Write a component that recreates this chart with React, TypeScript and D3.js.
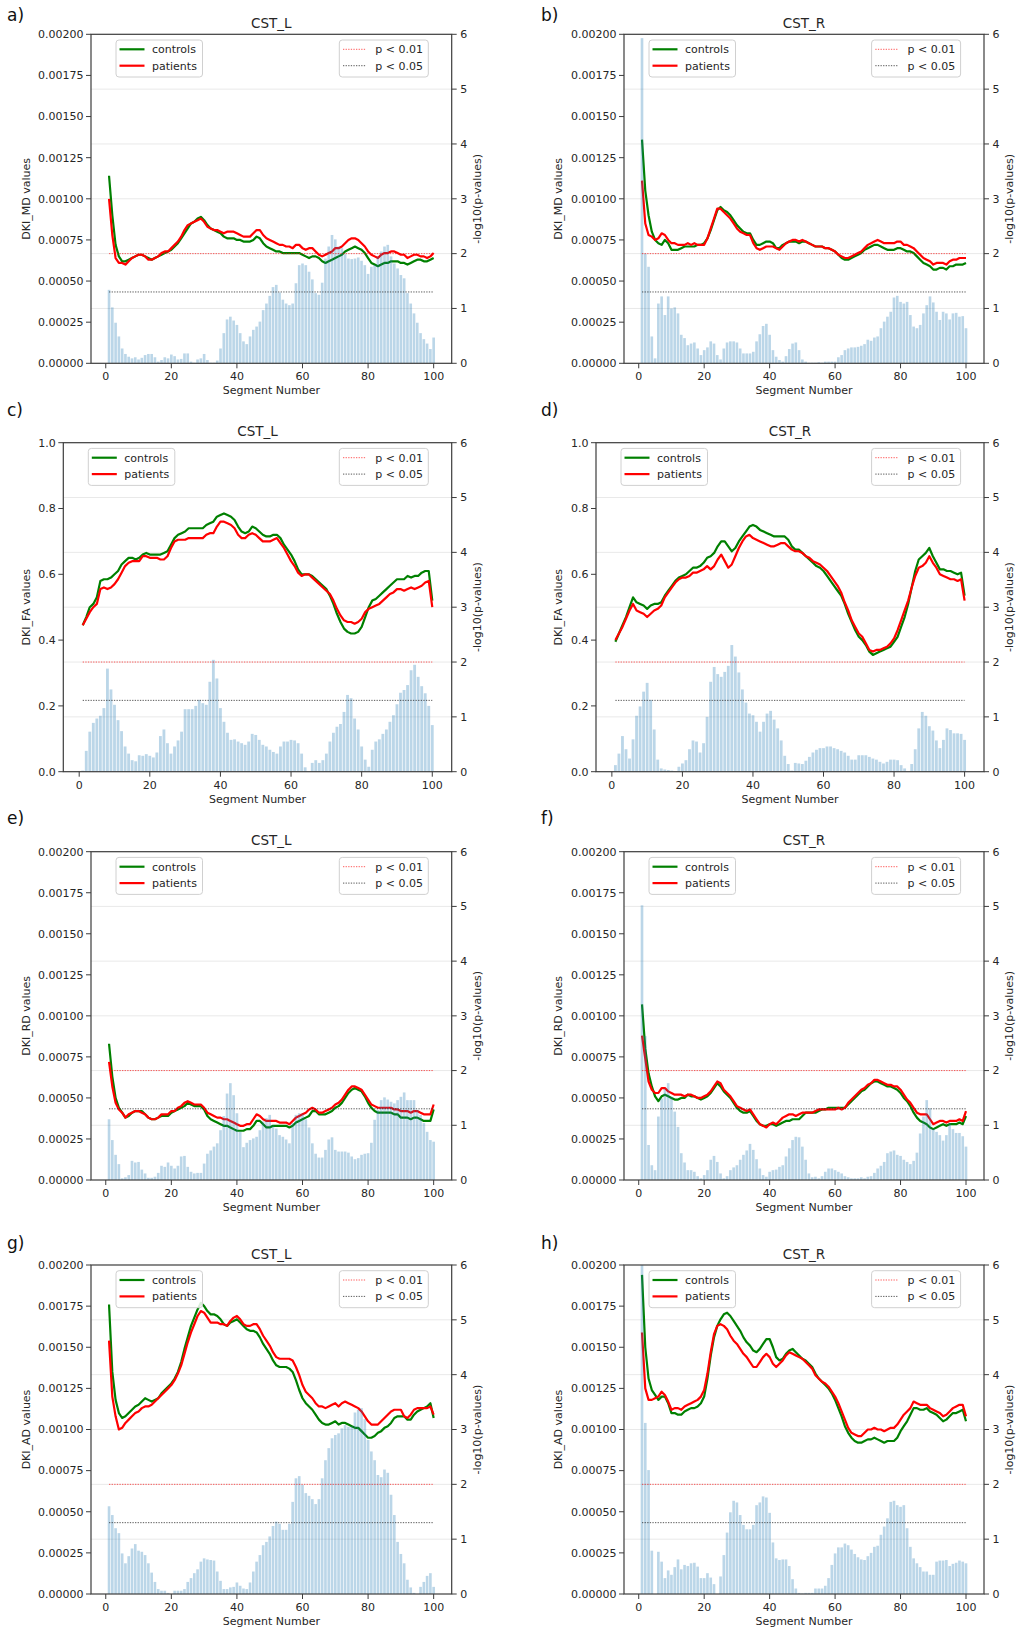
import * as d3 from "d3";

// segment index along the tract
const segments = d3.range(1, 101);
const xTicks = [0, 20, 40, 60, 80, 100];
const pTicks = [0, 1, 2, 3, 4, 5, 6];
const diffTicks = [0, 0.00025, 0.0005, 0.00075, 0.001, 0.00125, 0.0015, 0.00175, 0.002];
const faTicks = [0, 0.2, 0.4, 0.6, 0.8, 1.0];
const groupLabels = ["controls", "patients"];
const pLabels = ["p < 0.01", "p < 0.05"];
const pLevels = [2, -Math.log10(0.05)];

// diffusivities below are in units of 1e-5 (mm^2/s)
const mdLControls = [
  114, 90, 72, 65, 62, 62, 63, 64, 65, 66, 66, 65, 64, 63, 64, 65, 66, 67, 68, 69,
  71, 73, 76, 79, 82, 85, 86, 88, 89, 87, 84, 82, 81, 80, 79, 77, 76, 76, 76, 75,
  75, 74, 74, 74, 75, 77, 76, 73, 71, 70, 69, 68, 68, 67, 67, 67, 67, 67, 67, 66,
  65, 64, 65, 65, 64, 62, 61, 62, 63, 64, 65, 66, 68, 69, 70, 71, 70, 69, 67, 64,
  61, 60, 59, 60, 61, 61, 62, 62, 62, 61, 61, 60, 61, 62, 63, 63, 62, 62, 63, 64,
];
const mdLPatients = [
  100, 78, 64, 61, 61, 60, 62, 64, 65, 66, 66, 65, 63, 63, 64, 65, 67, 68, 68, 70,
  72, 74, 77, 81, 84, 85, 86, 87, 88, 86, 83, 82, 81, 81, 80, 79, 80, 80, 80, 79,
  78, 77, 77, 77, 79, 81, 81, 78, 76, 75, 74, 73, 72, 72, 71, 71, 70, 72, 72, 70,
  69, 70, 70, 68, 66, 65, 66, 67, 68, 70, 70, 71, 73, 75, 76, 76, 75, 73, 71, 68,
  66, 65, 64, 66, 67, 67, 68, 68, 67, 66, 66, 64, 65, 66, 66, 65, 65, 64, 65, 67,
];
const mdLLogP = [
  1.34, 1.02, 0.74, 0.49, 0.27, 0.17, 0.12, 0.09, 0.11, 0.07, 0.1, 0.15, 0.17, 0.17, 0.11, 0.03, 0.06, 0.11, 0.09, 0.16,
  0.13, 0.07, 0.08, 0.18, 0.18, 0.03, 0.01, 0.07, 0.09, 0.17, 0.06, 0.01, 0.01, 0.05, 0.27, 0.55, 0.8, 0.85, 0.78, 0.7,
  0.55, 0.4, 0.35, 0.49, 0.61, 0.67, 0.76, 0.97, 1.09, 1.23, 1.39, 1.43, 1.29, 1.16, 1.09, 1.06, 1.09, 1.46, 1.79, 1.82,
  1.79, 1.67, 1.53, 1.28, 1.25, 1.47, 1.91, 2.13, 2.34, 2.26, 2.13, 2.1, 1.99, 1.91, 1.9, 1.91, 1.93, 1.87, 1.79, 1.63,
  1.76, 1.79, 1.95, 2.04, 2.13, 2.16, 1.95, 1.82, 1.73, 1.61, 1.55, 1.28, 1.09, 0.91, 0.74, 0.55, 0.44, 0.36, 0.26, 0.47,
];

const mdRControls = [
  136, 105, 90, 80, 75, 73, 72, 75, 73, 69, 69, 69, 70, 71, 71, 71, 71, 72, 72, 73,
  76, 81, 87, 93, 95, 93, 92, 90, 87, 84, 82, 80, 79, 79, 75, 72, 72, 73, 74, 74,
  73, 70, 70, 72, 73, 74, 74, 74, 73, 74, 74, 73, 72, 71, 71, 71, 70, 70, 69, 68,
  66, 64, 63, 63, 64, 65, 66, 67, 69, 70, 71, 72, 72, 71, 70, 69, 69, 69, 70, 70,
  69, 68, 68, 67, 65, 63, 61, 60, 59, 57, 57, 58, 58, 57, 59, 59, 60, 60, 60, 61,
];
const mdRPatients = [
  111, 85, 78, 77, 75, 76, 79, 78, 75, 73, 73, 72, 72, 72, 73, 72, 73, 72, 72, 72,
  76, 82, 88, 94, 94, 92, 90, 88, 85, 82, 80, 79, 78, 78, 73, 70, 69, 70, 71, 71,
  71, 70, 69, 71, 73, 74, 75, 75, 74, 75, 74, 73, 72, 71, 71, 71, 70, 70, 69, 68,
  66, 65, 64, 64, 65, 66, 67, 68, 70, 72, 73, 74, 75, 74, 73, 73, 73, 73, 74, 74,
  72, 72, 71, 70, 68, 66, 64, 63, 62, 60, 61, 61, 61, 60, 62, 63, 63, 64, 64, 64,
];
const mdRLogP = [
  5.93, 2.0, 1.76, 0.49, 0.09, 1.09, 1.22, 0.88, 1.22, 1.0, 1.02, 0.91, 0.52, 0.46, 0.33, 0.36, 0.38, 0.27, 0.15, 0.24,
  0.29, 0.4, 0.36, 0.15, 0.07, 0.27, 0.38, 0.4, 0.4, 0.38, 0.27, 0.18, 0.18, 0.18, 0.21, 0.4, 0.53, 0.68, 0.72, 0.52,
  0.24, 0.12, 0.06, 0.03, 0.13, 0.26, 0.36, 0.38, 0.24, 0.07, 0.03, 0.01, 0.01, 0.01, 0.02, 0.01, 0.03, 0.03, 0.03, 0.03,
  0.11, 0.15, 0.24, 0.27, 0.29, 0.29, 0.3, 0.32, 0.35, 0.43, 0.41, 0.47, 0.49, 0.64, 0.76, 0.85, 0.94, 1.2, 1.23, 1.12,
  1.09, 1.12, 0.88, 0.67, 0.64, 0.7, 0.91, 1.06, 1.22, 1.11, 0.94, 0.79, 0.94, 0.91, 0.8, 0.91, 0.92, 0.85, 0.86, 0.64,
];

const faLControls = [
  0.445, 0.47, 0.5, 0.51, 0.53, 0.58, 0.585, 0.585, 0.59, 0.6, 0.61, 0.63, 0.64, 0.65, 0.65, 0.645, 0.65, 0.66, 0.665, 0.66,
  0.66, 0.66, 0.66, 0.665, 0.67, 0.69, 0.71, 0.72, 0.725, 0.73, 0.74, 0.74, 0.74, 0.74, 0.74, 0.75, 0.755, 0.76, 0.775, 0.78,
  0.785, 0.78, 0.775, 0.765, 0.745, 0.73, 0.725, 0.73, 0.745, 0.74, 0.73, 0.72, 0.715, 0.715, 0.72, 0.72, 0.71, 0.69, 0.675, 0.66,
  0.64, 0.615, 0.6, 0.6, 0.6, 0.595, 0.585, 0.575, 0.565, 0.555, 0.535, 0.51, 0.48, 0.455, 0.435, 0.425, 0.42, 0.42, 0.425, 0.44,
  0.47, 0.5, 0.52, 0.525, 0.535, 0.545, 0.555, 0.565, 0.575, 0.585, 0.585, 0.585, 0.595, 0.59, 0.595, 0.595, 0.605, 0.61, 0.61, 0.52,
];
const faLPatients = [
  0.445, 0.465, 0.485, 0.5, 0.51, 0.555, 0.56, 0.555, 0.56, 0.57, 0.585, 0.605, 0.625, 0.635, 0.64, 0.64, 0.64, 0.655, 0.655, 0.65,
  0.65, 0.65, 0.645, 0.645, 0.655, 0.68, 0.7, 0.705, 0.705, 0.705, 0.71, 0.71, 0.71, 0.71, 0.71, 0.72, 0.725, 0.725, 0.745, 0.76,
  0.76, 0.755, 0.75, 0.74, 0.72, 0.71, 0.71, 0.72, 0.725, 0.72, 0.71, 0.7, 0.7, 0.7, 0.705, 0.71, 0.695, 0.68, 0.66, 0.64,
  0.625, 0.605, 0.595, 0.6, 0.6, 0.59, 0.58, 0.57, 0.56, 0.55, 0.54, 0.52, 0.495, 0.475, 0.46, 0.455, 0.455, 0.45, 0.455, 0.465,
  0.485, 0.495, 0.5, 0.505, 0.51, 0.52, 0.53, 0.54, 0.545, 0.555, 0.555, 0.55, 0.555, 0.56, 0.555, 0.56, 0.565, 0.575, 0.58, 0.5,
];
const faLLogP = [
  0.02, 0.38, 0.73, 0.89, 0.97, 1.02, 1.16, 1.88, 1.5, 1.22, 0.94, 0.74, 0.46, 0.33, 0.21, 0.19, 0.3, 0.29, 0.32, 0.29,
  0.26, 0.35, 0.65, 0.77, 0.52, 0.33, 0.46, 0.57, 0.73, 1.14, 1.14, 1.14, 1.2, 1.31, 1.25, 1.22, 1.64, 2.04, 1.7, 1.16,
  0.91, 0.71, 0.58, 0.59, 0.55, 0.52, 0.49, 0.55, 0.69, 0.67, 0.58, 0.49, 0.46, 0.4, 0.36, 0.33, 0.46, 0.55, 0.55, 0.58,
  0.57, 0.52, 0.33, 0.08, 0.0, 0.16, 0.21, 0.16, 0.21, 0.33, 0.55, 0.71, 0.82, 0.87, 1.09, 1.4, 1.34, 0.97, 0.77, 0.46,
  0.22, 0.09, 0.4, 0.55, 0.59, 0.69, 0.77, 0.91, 1.03, 1.23, 1.44, 1.49, 1.58, 1.85, 1.95, 1.73, 1.56, 1.43, 1.2, 0.85,
];

const faRControls = [
  0.395, 0.42, 0.445, 0.47, 0.5, 0.53, 0.515, 0.51, 0.505, 0.495, 0.505, 0.51, 0.51, 0.515, 0.535, 0.55, 0.565, 0.58, 0.59, 0.595,
  0.6, 0.61, 0.62, 0.62, 0.625, 0.635, 0.65, 0.655, 0.665, 0.685, 0.7, 0.7, 0.685, 0.67, 0.68, 0.7, 0.715, 0.73, 0.745, 0.75,
  0.745, 0.735, 0.73, 0.725, 0.72, 0.715, 0.715, 0.715, 0.715, 0.705, 0.685, 0.675, 0.675, 0.665, 0.655, 0.645, 0.635, 0.625, 0.62, 0.61,
  0.595, 0.58, 0.565, 0.55, 0.535, 0.51, 0.48, 0.455, 0.43, 0.41, 0.4, 0.385, 0.365, 0.355, 0.36, 0.365, 0.37, 0.375, 0.38, 0.395,
  0.41, 0.44, 0.47, 0.51, 0.56, 0.61, 0.645, 0.655, 0.665, 0.68, 0.655, 0.635, 0.615, 0.615, 0.61, 0.61, 0.605, 0.6, 0.605, 0.535,
];
const faRPatients = [
  0.4, 0.42, 0.44, 0.465, 0.49, 0.51, 0.49, 0.485, 0.48, 0.47, 0.48, 0.49, 0.495, 0.505, 0.53, 0.545, 0.56, 0.575, 0.585, 0.59,
  0.59, 0.595, 0.605, 0.605, 0.61, 0.615, 0.625, 0.615, 0.625, 0.645, 0.66, 0.64, 0.62, 0.63, 0.655, 0.68, 0.7, 0.715, 0.72, 0.71,
  0.705, 0.7, 0.695, 0.69, 0.685, 0.685, 0.69, 0.695, 0.695, 0.685, 0.675, 0.67, 0.67, 0.665, 0.655, 0.65, 0.64, 0.635, 0.63, 0.62,
  0.61, 0.595, 0.58, 0.565, 0.545, 0.515, 0.49, 0.46, 0.44, 0.42, 0.41, 0.39, 0.37, 0.365, 0.37, 0.37, 0.375, 0.38, 0.39, 0.405,
  0.43, 0.46, 0.49, 0.52, 0.56, 0.595, 0.62, 0.625, 0.635, 0.655, 0.635, 0.62, 0.6, 0.595, 0.59, 0.585, 0.585, 0.58, 0.585, 0.52,
];
const faRLogP = [
  0.12, 0.33, 0.65, 0.41, 0.24, 0.59, 1.02, 1.19, 1.46, 1.62, 1.31, 0.77, 0.22, 0.06, 0.04, 0.03, 0.02, 0.01, 0.09, 0.15,
  0.21, 0.41, 0.57, 0.55, 0.35, 0.52, 1.0, 1.64, 1.91, 1.78, 1.73, 1.82, 1.93, 2.31, 2.1, 1.81, 1.5, 1.26, 1.06, 1.03,
  0.91, 0.73, 0.91, 1.06, 1.11, 0.95, 0.79, 0.57, 0.29, 0.14, 0.02, 0.16, 0.15, 0.14, 0.2, 0.27, 0.35, 0.4, 0.43, 0.43,
  0.46, 0.46, 0.43, 0.41, 0.38, 0.35, 0.29, 0.22, 0.22, 0.3, 0.3, 0.3, 0.27, 0.24, 0.22, 0.18, 0.15, 0.18, 0.22, 0.22,
  0.21, 0.12, 0.06, 0.0, 0.14, 0.41, 0.79, 1.09, 1.02, 0.83, 0.75, 0.57, 0.43, 0.58, 0.79, 0.76, 0.7, 0.7, 0.69, 0.58,
];

const rdLControls = [
  83, 63, 50, 44, 41, 38, 39, 41, 42, 42, 42, 40, 38, 37, 37, 38, 39, 39, 39, 41,
  42, 43, 44, 45, 47, 46, 45, 45, 45, 43, 39, 37, 36, 35, 34, 33, 33, 32, 31, 30,
  30, 30, 31, 31, 33, 36, 36, 34, 32, 32, 33, 33, 33, 33, 33, 32, 33, 35, 36, 37,
  38, 39, 42, 42, 40, 40, 40, 41, 42, 44, 45, 47, 50, 53, 55, 56, 55, 54, 51, 47,
  44, 42, 41, 41, 41, 41, 41, 40, 40, 38, 38, 38, 37, 38, 38, 37, 36, 36, 36, 43,
];
const rdLPatients = [
  72, 57, 47, 43, 41, 38, 40, 41, 42, 42, 41, 40, 38, 37, 37, 38, 40, 40, 40, 42,
  42, 44, 45, 47, 48, 47, 46, 46, 46, 44, 41, 40, 39, 38, 38, 37, 37, 36, 35, 34,
  33, 33, 34, 34, 37, 40, 39, 37, 36, 36, 36, 36, 35, 35, 35, 34, 36, 38, 39, 40,
  41, 43, 44, 43, 41, 41, 42, 43, 44, 46, 47, 49, 52, 55, 57, 57, 56, 55, 52, 49,
  46, 45, 44, 44, 44, 44, 44, 43, 43, 42, 42, 42, 41, 42, 42, 41, 40, 40, 40, 46,
];
const rdLLogP = [
  1.11, 0.73, 0.46, 0.29, 0.03, 0.05, 0.09, 0.35, 0.32, 0.33, 0.19, 0.12, 0.04, 0.04, 0.06, 0.13, 0.26, 0.24, 0.32, 0.26,
  0.21, 0.26, 0.43, 0.44, 0.24, 0.15, 0.12, 0.13, 0.13, 0.3, 0.48, 0.54, 0.61, 0.67, 0.91, 1.17, 1.58, 1.77, 1.55, 1.22,
  0.88, 0.6, 0.68, 0.73, 0.76, 0.79, 0.91, 1.07, 1.13, 1.19, 1.0, 0.94, 0.82, 0.79, 0.74, 0.67, 1.04, 1.19, 1.22, 1.21,
  1.11, 0.96, 0.67, 0.48, 0.41, 0.41, 0.55, 0.74, 0.78, 0.55, 0.52, 0.52, 0.52, 0.5, 0.43, 0.38, 0.4, 0.46, 0.48, 0.49,
  0.68, 1.1, 1.28, 1.46, 1.51, 1.47, 1.43, 1.4, 1.46, 1.52, 1.6, 1.46, 1.46, 1.46, 1.28, 1.19, 1.04, 0.88, 0.73, 0.7,
];

const rdRControls = [
  107, 80, 65, 57, 51, 48, 51, 52, 51, 50, 49, 49, 50, 50, 52, 51, 51, 50, 49, 50,
  51, 53, 56, 59, 57, 54, 52, 50, 47, 44, 42, 41, 41, 42, 39, 36, 34, 33, 33, 34,
  34, 33, 34, 35, 36, 36, 37, 37, 37, 39, 41, 41, 41, 41, 42, 43, 43, 44, 44, 44,
  44, 44, 44, 46, 48, 50, 52, 54, 55, 57, 59, 60, 60, 59, 58, 57, 57, 56, 55, 53,
  50, 48, 45, 41, 38, 36, 35, 34, 32, 31, 32, 33, 34, 33, 34, 34, 34, 35, 34, 39,
];
const rdRPatients = [
  88, 74, 60, 55, 53, 53, 56, 56, 54, 53, 52, 52, 52, 51, 52, 52, 51, 50, 50, 51,
  52, 54, 57, 60, 59, 55, 53, 51, 48, 45, 44, 43, 42, 43, 40, 37, 34, 33, 32, 34,
  35, 34, 36, 38, 39, 40, 40, 39, 40, 41, 41, 41, 41, 42, 43, 43, 43, 43, 43, 43,
  44, 43, 44, 47, 49, 51, 53, 55, 56, 58, 59, 61, 61, 60, 59, 58, 58, 57, 57, 55,
  52, 49, 47, 44, 41, 40, 40, 40, 37, 34, 35, 36, 36, 35, 36, 36, 36, 37, 36, 42,
];
const rdRLogP = [
  5.02, 2.63, 0.64, 0.27, 0.18, 1.16, 1.49, 1.67, 1.77, 1.52, 1.25, 0.97, 0.49, 0.32, 0.18, 0.18, 0.15, 0.07, 0.03, 0.09,
  0.18, 0.37, 0.44, 0.33, 0.12, 0.03, 0.07, 0.18, 0.23, 0.27, 0.37, 0.46, 0.54, 0.66, 0.55, 0.38, 0.21, 0.09, 0.06, 0.15,
  0.18, 0.19, 0.24, 0.27, 0.43, 0.58, 0.73, 0.79, 0.78, 0.61, 0.37, 0.12, 0.05, 0.06, 0.03, 0.07, 0.15, 0.21, 0.21, 0.18,
  0.15, 0.12, 0.07, 0.05, 0.03, 0.03, 0.03, 0.05, 0.03, 0.06, 0.07, 0.13, 0.21, 0.26, 0.33, 0.49, 0.52, 0.54, 0.46, 0.44,
  0.37, 0.33, 0.29, 0.35, 0.5, 0.85, 1.16, 1.46, 1.31, 0.94, 0.88, 0.82, 0.72, 0.82, 1.04, 0.93, 0.86, 0.86, 0.8, 0.61,
];

const adLControls = [
  176, 135, 118, 110, 107, 108, 110, 112, 114, 115, 117, 119, 118, 117, 118, 119, 122, 124, 126, 128,
  131, 135, 141, 149, 156, 163, 168, 173, 177, 175, 172, 170, 170, 169, 167, 164, 163, 165, 166, 167,
  165, 163, 161, 160, 160, 159, 156, 152, 149, 146, 142, 139, 138, 138, 138, 137, 135, 130, 124, 119,
  116, 114, 112, 109, 106, 104, 103, 103, 104, 105, 103, 104, 104, 103, 102, 101, 101, 99, 97, 95,
  95, 96, 98, 99, 101, 102, 104, 107, 108, 108, 108, 106, 106, 109, 111, 112, 113, 114, 116, 107,
];
const adLPatients = [
  154, 120, 108, 100, 101, 104, 106, 108, 110, 111, 113, 114, 114, 115, 117, 119, 121, 123, 125, 127,
  130, 134, 139, 146, 153, 159, 164, 169, 172, 171, 168, 165, 165, 165, 164, 164, 163, 166, 168, 169,
  167, 164, 163, 163, 164, 164, 161, 157, 154, 151, 147, 144, 143, 143, 143, 143, 142, 138, 133, 127,
  123, 121, 119, 116, 114, 114, 113, 114, 115, 116, 114, 116, 117, 116, 115, 114, 113, 111, 108, 105,
  103, 103, 103, 105, 107, 109, 111, 112, 112, 112, 108, 107, 109, 112, 113, 113, 113, 113, 114, 109,
];
const adLLogP = [
  1.6, 1.44, 1.2, 1.11, 0.74, 0.56, 0.69, 0.83, 0.91, 0.79, 0.77, 0.71, 0.56, 0.39, 0.22, 0.09, 0.06, 0.06, 0.02, 0.0,
  0.06, 0.06, 0.06, 0.09, 0.22, 0.29, 0.38, 0.45, 0.59, 0.65, 0.63, 0.62, 0.61, 0.41, 0.24, 0.09, 0.09, 0.12, 0.13, 0.21,
  0.15, 0.1, 0.09, 0.21, 0.41, 0.59, 0.71, 0.89, 0.95, 1.05, 1.24, 1.32, 1.28, 1.17, 1.17, 1.28, 1.68, 2.11, 2.15, 1.99,
  1.84, 1.79, 1.73, 1.64, 1.73, 2.11, 2.44, 2.66, 2.84, 2.9, 2.93, 3.02, 3.08, 3.05, 3.06, 3.31, 3.36, 3.39, 3.19, 2.81,
  2.6, 2.44, 2.17, 2.13, 2.27, 2.21, 1.81, 1.44, 0.95, 0.73, 0.56, 0.26, 0.12, 0.02, 0.0, 0.13, 0.22, 0.33, 0.38, 0.13,
];

const adRControls = [
  194, 150, 131, 124, 121, 118, 120, 120, 116, 110, 110, 109, 109, 111, 112, 113, 113, 114, 116, 120,
  131, 145, 156, 163, 167, 170, 171, 169, 166, 163, 160, 156, 153, 151, 148, 147, 149, 152, 155, 155,
  150, 144, 142, 143, 146, 148, 149, 147, 145, 143, 142, 140, 138, 134, 131, 129, 127, 125, 122, 118,
  113, 108, 102, 98, 95, 93, 92, 92, 93, 94, 94, 95, 94, 93, 92, 93, 93, 93, 95, 99,
  102, 105, 109, 113, 113, 112, 112, 113, 111, 110, 109, 107, 105, 106, 108, 110, 110, 111, 112, 105,
];
const adRPatients = [
  159, 125, 118, 118, 119, 120, 123, 121, 117, 112, 113, 113, 112, 114, 115, 116, 117, 118, 120, 124,
  134, 147, 158, 163, 164, 163, 161, 157, 154, 152, 149, 146, 144, 141, 138, 138, 141, 144, 146, 144,
  140, 138, 140, 142, 145, 147, 146, 145, 144, 143, 141, 139, 137, 133, 131, 129, 128, 126, 123, 120,
  116, 111, 106, 101, 98, 97, 96, 96, 98, 100, 100, 101, 100, 100, 99, 100, 101, 101, 103, 106,
  109, 111, 113, 117, 116, 115, 115, 115, 113, 112, 111, 110, 108, 109, 111, 113, 114, 115, 115, 108,
];
const adRLogP = [
  6.3, 3.12, 2.26, 0.79, 0.0, 0.77, 0.59, 0.29, 0.43, 0.35, 0.49, 0.63, 0.45, 0.53, 0.51, 0.56, 0.57, 0.5, 0.29, 0.29,
  0.38, 0.3, 0.18, 0.0, 0.32, 0.71, 1.12, 1.49, 1.7, 1.67, 1.44, 1.26, 1.18, 1.18, 1.26, 1.62, 1.67, 1.78, 1.76, 1.48,
  0.94, 0.65, 0.62, 0.63, 0.63, 0.51, 0.27, 0.1, 0.02, 0.01, 0.02, 0.02, 0.02, 0.1, 0.1, 0.1, 0.15, 0.29, 0.53, 0.74,
  0.85, 0.85, 0.92, 0.89, 0.81, 0.73, 0.67, 0.63, 0.62, 0.69, 0.75, 0.86, 0.88, 1.08, 1.23, 1.38, 1.68, 1.7, 1.62, 1.59,
  1.62, 1.2, 0.86, 0.65, 0.56, 0.49, 0.41, 0.41, 0.35, 0.35, 0.59, 0.61, 0.61, 0.62, 0.51, 0.55, 0.57, 0.61, 0.59, 0.56,
];

const e5 = (a: number[]) => a.map((v) => v / 1e5);

type Spec = {
  tag: string;
  tract: string;
  metric: string;
  fa: boolean;
  controls: number[];
  patients: number[];
  logp: number[];
};

const panels: Spec[] = [
  { tag: "a)", tract: "CST_L", metric: "DKI_MD", fa: false, controls: e5(mdLControls), patients: e5(mdLPatients), logp: mdLLogP },
  { tag: "b)", tract: "CST_R", metric: "DKI_MD", fa: false, controls: e5(mdRControls), patients: e5(mdRPatients), logp: mdRLogP },
  { tag: "c)", tract: "CST_L", metric: "DKI_FA", fa: true, controls: faLControls, patients: faLPatients, logp: faLLogP },
  { tag: "d)", tract: "CST_R", metric: "DKI_FA", fa: true, controls: faRControls, patients: faRPatients, logp: faRLogP },
  { tag: "e)", tract: "CST_L", metric: "DKI_RD", fa: false, controls: e5(rdLControls), patients: e5(rdLPatients), logp: rdLLogP },
  { tag: "f)", tract: "CST_R", metric: "DKI_RD", fa: false, controls: e5(rdRControls), patients: e5(rdRPatients), logp: rdRLogP },
  { tag: "g)", tract: "CST_L", metric: "DKI_AD", fa: false, controls: e5(adLControls), patients: e5(adLPatients), logp: adLLogP },
  { tag: "h)", tract: "CST_R", metric: "DKI_AD", fa: false, controls: e5(adRControls), patients: e5(adRPatients), logp: adRLogP },
];

// page layout
const rows = [
  { top: 34.3, bottom: 363.3, tagY: 15 },
  { top: 442.7, bottom: 771.7, tagY: 410 },
  { top: 851.7, bottom: 1180, tagY: 818 },
  { top: 1265, bottom: 1594, tagY: 1243 },
];
const cols = [
  { left: 91, leftFa: 63.3, right: 451.7, tagX: 7, yLabelX: 26 },
  { left: 624, leftFa: 596, right: 984, tagX: 541, yLabelX: 558 },
];

const FONT = "'DejaVu Sans', sans-serif";
const INK = "#262626";
const SPINE = "#3c3c3c";
const green = "#008000";
const red = "#ff0000";
const barColor = "#1f77b4";

function Panel({ spec, index }: { spec: Spec; index: number }) {
  const row = rows[Math.floor(index / 2)];
  const col = cols[index % 2];
  const left = spec.fa ? col.leftFa : col.left;
  const right = col.right;
  const { top, bottom } = row;

  const x = d3.scaleLinear().domain([-4.5, 105.5]).range([left, right]);
  const y = d3.scaleLinear().domain([0, spec.fa ? 1 : 0.002]).range([bottom, top]);
  const yP = d3.scaleLinear().domain([0, 6]).range([bottom, top]);
  const yTicks = spec.fa ? faTicks : diffTicks;
  const fmt = spec.fa ? d3.format(".1f") : d3.format(".5f");
  const line = d3
    .line<number>()
    .x((_, i) => x(segments[i]))
    .y((v) => y(v));
  const clipId = `clip-${index}`;
  const barW = x(0.8) - x(0);

  const legL = left + 25;
  const legR = right - 112.4;
  const legTop = top + 5.7;

  return (
    <g>
      <defs>
        <clipPath id={clipId}>
          <rect x={left} y={top} width={right - left} height={bottom - top} />
        </clipPath>
      </defs>
      {/* grid of the twin p-value axis */}
      {pTicks
        .filter((t) => t > 0 && t < 6)
        .map((t) => (
          <line key={t} x1={left} x2={right} y1={yP(t)} y2={yP(t)} stroke="#e9e9e9" strokeWidth={1} />
        ))}
      <g clipPath={`url(#${clipId})`}>
        <path d={line(spec.controls) ?? ""} fill="none" stroke={green} strokeWidth={2.2} strokeLinejoin="round" />
        <path d={line(spec.patients) ?? ""} fill="none" stroke={red} strokeWidth={2.2} strokeLinejoin="round" />
        {spec.logp.map((v, i) => (
          <rect
            key={i}
            x={x(segments[i]) - barW / 2}
            width={barW}
            y={yP(v)}
            height={yP(0) - yP(v)}
            fill={barColor}
            fillOpacity={0.3}
          />
        ))}
        <line x1={x(1)} x2={x(100)} y1={yP(pLevels[0])} y2={yP(pLevels[0])} stroke={red} strokeOpacity={0.65} strokeWidth={1} strokeDasharray="1.3 1.3" />
        <line x1={x(1)} x2={x(100)} y1={yP(pLevels[1])} y2={yP(pLevels[1])} stroke="#222" strokeOpacity={0.75} strokeWidth={1} strokeDasharray="1.3 1.3" />
      </g>

      {/* spines */}
      <rect x={left} y={top} width={right - left} height={bottom - top} fill="none" stroke={SPINE} strokeWidth={1.2} />

      {/* left axis */}
      {yTicks.map((t) => (
        <g key={t}>
          <line x1={left - 5} x2={left} y1={y(t)} y2={y(t)} stroke={SPINE} strokeWidth={1} />
          <text x={left - 7.5} y={y(t)} dy="0.35em" textAnchor="end" fontSize={11} fill={INK}>
            {fmt(t)}
          </text>
        </g>
      ))}
      {/* right axis */}
      {pTicks.map((t) => (
        <g key={t}>
          <line x1={right} x2={right + 5} y1={yP(t)} y2={yP(t)} stroke={SPINE} strokeWidth={1} />
          <text x={right + 8.5} y={yP(t)} dy="0.35em" textAnchor="start" fontSize={11} fill={INK}>
            {t}
          </text>
        </g>
      ))}
      {/* bottom axis */}
      {xTicks.map((t) => (
        <g key={t}>
          <line x1={x(t)} x2={x(t)} y1={bottom} y2={bottom + 5} stroke={SPINE} strokeWidth={1} />
          <text x={x(t)} y={bottom + 17} textAnchor="middle" fontSize={11} fill={INK}>
            {t}
          </text>
        </g>
      ))}

      <text x={(left + right) / 2} y={top - 6.5} textAnchor="middle" fontSize={13.5} fill={INK}>
        {spec.tract}
      </text>
      <text x={(left + right) / 2} y={bottom + 31} textAnchor="middle" fontSize={11} fill={INK}>
        Segment Number
      </text>
      <text
        transform={`translate(${col.yLabelX},${(top + bottom) / 2}) rotate(-90)`}
        dy="0.35em"
        textAnchor="middle"
        fontSize={11}
        fill={INK}
      >
        {spec.metric} values
      </text>
      <text
        transform={`translate(${right + 25},${(top + bottom) / 2}) rotate(-90)`}
        dy="0.35em"
        textAnchor="middle"
        fontSize={11}
        fill={INK}
      >
        -log10(p-values)
      </text>
      <text x={col.tagX} y={row.tagY} dy="0.35em" fontSize={17} fill="#111">
        {spec.tag}
      </text>

      {/* legend: groups */}
      <rect x={legL} y={legTop} width={86.5} height={37} rx={3} fill="#fff" fillOpacity={0.85} stroke="#d0d0d0" strokeWidth={1} />
      {groupLabels.map((g, i) => (
        <g key={g}>
          <line x1={legL + 3.5} x2={legL + 28.5} y1={legTop + 9.3 + i * 16.4} y2={legTop + 9.3 + i * 16.4} stroke={i === 0 ? green : red} strokeWidth={2.2} />
          <text x={legL + 36} y={legTop + 9.3 + i * 16.4} dy="0.35em" fontSize={11} fill={INK}>
            {g}
          </text>
        </g>
      ))}
      {/* legend: thresholds */}
      <rect x={legR} y={legTop} width={89} height={37} rx={3} fill="#fff" fillOpacity={0.85} stroke="#d0d0d0" strokeWidth={1} />
      {pLabels.map((p, i) => (
        <g key={p}>
          <line
            x1={legR + 3.7}
            x2={legR + 26.7}
            y1={legTop + 9.3 + i * 16.4}
            y2={legTop + 9.3 + i * 16.4}
            stroke={i === 0 ? red : "#222"}
            strokeOpacity={i === 0 ? 0.65 : 0.75}
            strokeWidth={1}
            strokeDasharray="1.3 1.3"
          />
          <text x={legR + 36} y={legTop + 9.3 + i * 16.4} dy="0.35em" fontSize={11} fill={INK}>
            {p}
          </text>
        </g>
      ))}
    </g>
  );
}

export default function App() {
  return (
    <svg
      width={1022}
      height={1637}
      viewBox="0 0 1022 1637"
      style={{ position: "absolute", left: 0, top: 0, background: "#fff" }}
      fontFamily={FONT}
    >
      <rect width={1022} height={1637} fill="#fff" />
      {panels.map((p, i) => (
        <Panel key={p.tag} spec={p} index={i} />
      ))}
    </svg>
  );
}
